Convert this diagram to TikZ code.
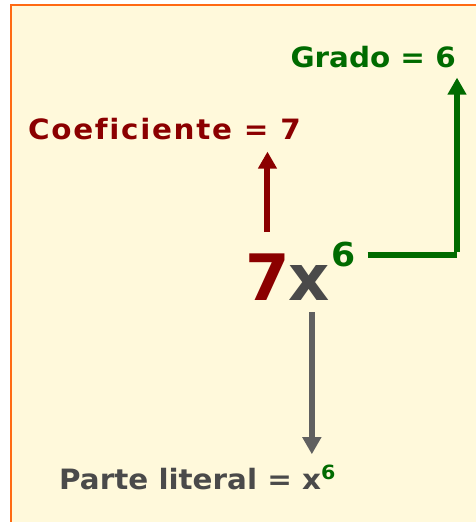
\documentclass[tikz,border=0pt]{standalone}
\usepackage{fontspec}
\setmainfont{DejaVu Sans}
\newfontfamily\etiq{DejaVu Sans}[FakeStretch=1.05, Ligatures=NoCommon]
\usetikzlibrary{arrows.meta,positioning}
\definecolor{rojo}{HTML}{8B0000}
\definecolor{verde}{HTML}{006B00}
\definecolor{gris}{HTML}{4A4A4A}
\definecolor{grisflecha}{HTML}{606060}
\definecolor{fondo}{HTML}{FFF9DB}
\definecolor{borde}{HTML}{FF6A13}
\begin{document}
\begin{tikzpicture}[x=1pt, y=-1pt]
	\tikzset{etiqueta/.style={inner sep=0pt, font=\etiq\bfseries\fontsize{28}{30}\selectfont},
	grande/.style={inner sep=0pt, anchor=base west, font=\bfseries\fontsize{64}{66}\selectfont},
	flecha/.style={line width=6pt, -{Triangle[length=17pt,width=18pt]}}};

	\useasboundingbox (0,0) rectangle (476,522);
	\fill[white] (0,0) rectangle (476,522);
	\draw[borde, fill=fondo, line width=2pt] (11,5) rectangle (490,540);

	% monomio
	\node[grande, rojo] (siete) at (245,300) {7};
	\node[grande, gris] (equis) at (288,300) {x};
	\node[etiqueta, verde, anchor=base west, font=\etiq\bfseries\fontsize{33}{35}\selectfont] (seis) at (331,266) {6};

	% etiquetas
	\node[etiqueta, rojo, anchor=base west] (coef) at (28,139) {\addfontfeature{LetterSpace=6}Coeficiente = 7};
	\node[etiqueta, verde, anchor=base east] (grado) at (456,67) {Grado = 6};
	\node[etiqueta, gris, anchor=base west] (parte) at (59,489) {Parte literal = x\textsuperscript{\color{verde}6}};

	\coordinate (esquina) at (457,255);

	\draw[flecha, rojo] ([yshift=21pt]siete.north) -- ([yshift=-12pt]siete.north |- coef.south);
	\draw[flecha, verde, -] ([xshift=12pt]seis.east |- esquina) -- (esquina);
	\draw[flecha, verde, shorten >=10pt] ([yshift=3pt]esquina) -- (esquina |- grado.south);
	\draw[flecha, grisflecha] ([xshift=3pt,yshift=-12pt]equis.south) -- ([xshift=3pt,yshift=11pt]equis.south |- parte.north);
\end{tikzpicture}
\end{document}
